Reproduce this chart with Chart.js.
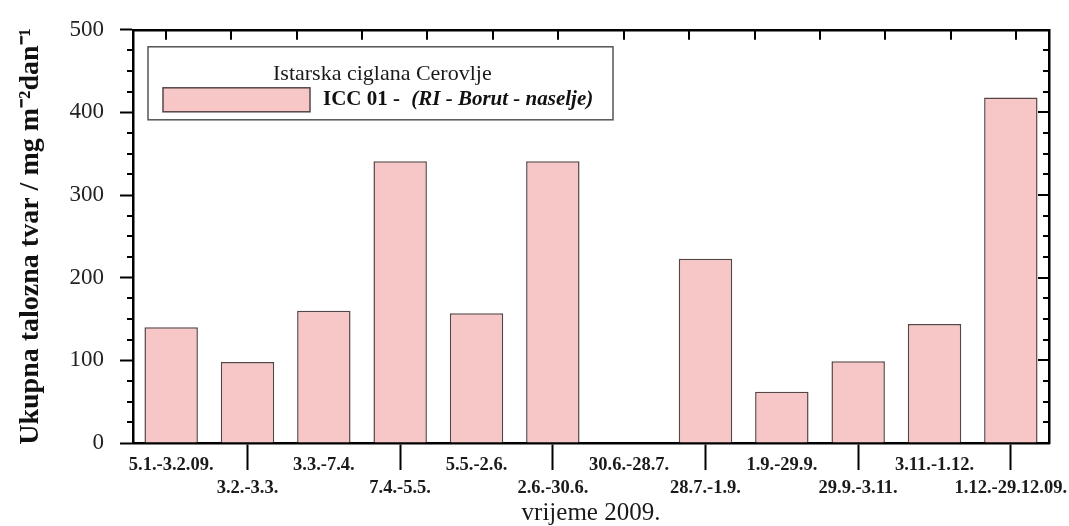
<!DOCTYPE html>
<html>
<head>
<meta charset="utf-8">
<title>Ukupna talozna tvar - ICC 01</title>
<script src="https://cdn.jsdelivr.net/npm/chart.js@4/dist/chart.umd.min.js"></script>
<style>
  html, body { margin: 0; padding: 0; background: #fff; }
  canvas { display: block; }
</style>
</head>
<body>
<canvas id="grafico" width="1069" height="526"></canvas>
<script>
// ====== DADOS ======
const periodi = ["5.1.-3.2.09.", "3.2.-3.3.", "3.3.-7.4.", "7.4.-5.5.", "5.5.-2.6.", "2.6.-30.6.",
  "30.6.-28.7.", "28.7.-1.9.", "1.9.-29.9.", "29.9.-3.11.", "3.11.-1.12.", "1.12.-29.12.09."];
const talog = [140, 98, 160, 341, 157, 341, null, 223, 62, 99, 144, 418];

const yMin = 0, yMax = 500, yStep = 100, yMinorStep = 25;

const legendaNaslov = "Istarska ciglana Cerovlje";
const serijaOznaka = "ICC 01 - ";
const serijaLokacija = "(RI - Borut - naselje)";
const yNaslov = "Ukupna talozna tvar / mg m\u207B\u00B2dan\u207B\u00B9";
const xNaslov = "vrijeme 2009.";

const SERIF = "'Liberation Serif', 'Times New Roman', serif";
Chart.defaults.font.family = SERIF;
Chart.defaults.color = "#1a1a1a";

// labels alternate between two rows
const xLabels = periodi.map((p, i) => i % 2 ? ["", p] : [p]);

// ====== TICKS EXTRA (minor + inward) ======
const okvirTicks = {
  id: "okvirTicks",
  afterDraw(chart) {
    const { ctx, chartArea, scales } = chart;
    const y = scales.y, x2 = scales.x2;
    ctx.save();
    ctx.strokeStyle = "#000";
    ctx.lineWidth = 2;
    ctx.beginPath();
    for (let v = yMin; v <= yMax; v += yMinorStep) {
      const py = Math.round(y.getPixelForValue(v));
      const major = v % yStep === 0;
      // left minor ticks (outward)
      if (!major) {
        ctx.moveTo(chartArea.left - 6, py);
        ctx.lineTo(chartArea.left, py);
      }
      // right ticks (inward)
      ctx.moveTo(chartArea.right, py);
      ctx.lineTo(chartArea.right - (major ? 11 : 6), py);
    }
    // top ticks (inward)
    x2.ticks.forEach(t => {
      const px = Math.round(x2.getPixelForValue(t.value));
      ctx.moveTo(px, chartArea.top);
      ctx.lineTo(px, chartArea.top + 10);
    });
    ctx.stroke();
    ctx.restore();
  }
};

// ====== LEGENDA ======
const legendaBox = {
  id: "legendaBox",
  afterDraw(chart) {
    const { ctx, chartArea } = chart;
    const ds = chart.data.datasets[0];
    const bx = chartArea.left + 15, by = chartArea.top + 17;
    const bw = 465, bh = 73;
    ctx.save();
    ctx.fillStyle = "#fff";
    ctx.fillRect(bx, by, bw, bh);
    ctx.strokeStyle = "#555";
    ctx.lineWidth = 1.5;
    ctx.strokeRect(bx, by, bw, bh);

    ctx.fillStyle = "#1a1a1a";
    ctx.textBaseline = "middle";
    ctx.textAlign = "left";
    ctx.font = "22px " + SERIF;
    ctx.fillText(legendaNaslov, bx + 125, by + 27);

    // swatch
    ctx.fillStyle = ds.backgroundColor;
    ctx.fillRect(bx + 15, by + 41, 147, 24);
    ctx.strokeStyle = ds.borderColor;
    ctx.lineWidth = 1.5;
    ctx.strokeRect(bx + 15, by + 41, 147, 24);

    ctx.fillStyle = "#111";
    ctx.font = "bold 21px " + SERIF;
    const tx = bx + 175, ty = by + 53;
    ctx.fillText(serijaOznaka, tx, ty);
    const w = ctx.measureText(serijaOznaka).width;
    ctx.font = "italic bold 21px " + SERIF;
    ctx.fillText(serijaLokacija, tx + w + 6, ty);
    ctx.restore();
  }
};

// ====== GRAFICO ======
const ctx = document.getElementById("grafico").getContext("2d");
new Chart(ctx, {
  type: "bar",
  data: {
    labels: xLabels,
    datasets: [{
      label: serijaOznaka + serijaLokacija,
      data: talog,
      backgroundColor: "#f7c7c8",
      borderColor: "#574545",
      borderWidth: 1.5,
      barPercentage: 0.7,
      categoryPercentage: 1.0,
      xAxisID: "x",
      yAxisID: "y"
    }]
  },
  options: {
    responsive: false,
    animation: false,
    layout: { padding: { left: 0, right: 20, top: 25, bottom: 0 } },
    plugins: {
      legend: { display: false },
      tooltip: { enabled: false }
    },
    scales: {
      x: {
        position: "bottom",
        grid: {
          offset: false,
          drawOnChartArea: false,
          tickLength: 27,
          tickWidth: 2,
          tickColor: c => c.index % 2 ? "#000" : "rgba(0,0,0,0)"
        },
        border: { color: "#000", width: 2.5 },
        ticks: {
          autoSkip: false,
          maxRotation: 0,
          padding: -16,
          color: "#1a1a1a",
          font: { size: 18.5, weight: "bold", lineHeight: 1.25 }
        },
        title: {
          display: true,
          text: xNaslov,
          color: "#1a1a1a",
          font: { size: 25, lineHeight: 1.2 },
          padding: { top: 0, bottom: -2 }
        },
        afterFit: s => { s.height = 83; s.paddingLeft = 0; s.paddingRight = 0; }
      },
      x2: {
        type: "linear",
        position: "top",
        min: -0.5,
        max: 12.5,
        ticks: { display: false, stepSize: 1 },
        grid: { display: false, drawTicks: false },
        border: { color: "#000", width: 2.5 },
        afterFit: s => { s.height = 0; s.paddingLeft = 0; s.paddingRight = 0; }
      },
      y: {
        position: "left",
        min: yMin,
        max: yMax,
        ticks: {
          stepSize: yStep,
          padding: 16,
          color: "#222",
          font: { size: 23 }
        },
        grid: {
          drawOnChartArea: false,
          tickLength: 13,
          tickWidth: 2,
          tickColor: "#000"
        },
        border: { color: "#000", width: 2.5 },
        title: {
          display: true,
          text: yNaslov,
          color: "#111",
          font: { size: 28, weight: "bold", lineHeight: 1.2 },
          padding: { top: 14, bottom: 0 }
        },
        afterFit: s => { s.width = 133; }
      },
      y2: {
        position: "right",
        min: yMin,
        max: yMax,
        ticks: { display: false },
        grid: { display: false, drawTicks: false },
        border: { color: "#000", width: 2.5 },
        afterFit: s => { s.width = 0; }
      }
    }
  },
  plugins: [okvirTicks, legendaBox]
});
</script>
</body>
</html>
